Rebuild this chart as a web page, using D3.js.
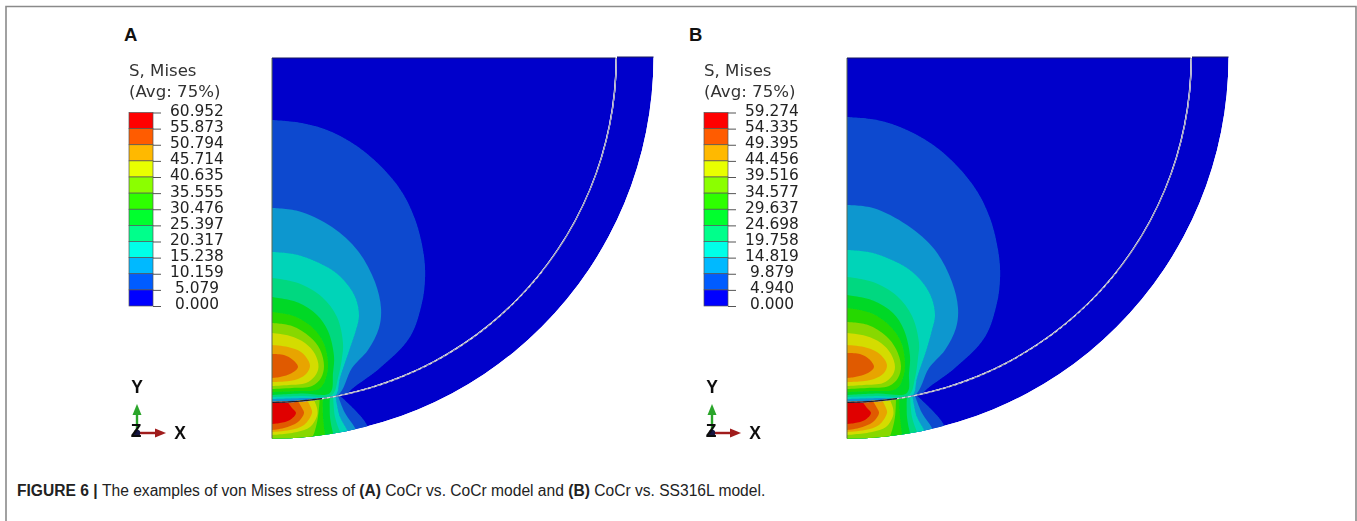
<!DOCTYPE html>
<html>
<head>
<meta charset="utf-8">
<script src="https://cdn.jsdelivr.net/npm/d3@7"></script>
<style>
html, body { margin: 0; padding: 0; background: #fff; }
svg { display: block; }
text { font-family: "DejaVu Sans", sans-serif; }
</style>
</head>
<body>
<svg id="fig" width="1357" height="521"></svg>
<script>
// legend values
var ticksA = ["60.952","55.873","50.794","45.714","40.635","35.555","30.476","25.397","20.317","15.238","10.159","5.079","0.000"];
var ticksB = ["59.274","54.335","49.395","44.456","39.516","34.577","29.637","24.698","19.758","14.819","9.879","4.940","0.000"];

// colour bands, top of the legend first
var legendCols = ["#ff0000","#ff5c00","#ffb900","#e8ff00","#8bff00","#2eff00","#00ff2e","#00ff8b","#00ffe8","#00b9ff","#005cff","#0000ff"];
// same bands as they look on the shaded model, lowest band first
var modelCols = ["#0000cb","#0a4acf","#0a97cf","#00d4b8","#00d880","#00d828","#28d800","#88d800","#d4dc00","#e8a400","#e05a00","#e00000"];

// model outline radii (px of model, origin = centre of the head)
var headR = 343.5, linerIn = 345, linerOut = 381.5, linerShift = -1;

// head contours, band 1 (lowest) up to band 10
var headA = [
  [[0,62],[30,65],[60,74],[93,94],[126,128],[143,161],[152,198],[153,222],[150,245],[138,279],[108,310],[80,331],[65,345],[0,350]],
  [[0,150],[26,153],[60,169],[86,193],[103,224],[109,250],[107,270],[96,292],[80,310],[65,338],[30,342],[0,345]],
  [[0,194],[26,197],[60,212],[75,226],[84,241],[87,258],[84,272],[78,290],[68,320],[63,338],[30,340],[0,341]],
  [[0,220],[26,225],[50,239],[65,259],[71,285],[70,300],[66,320],[60,337],[30,338],[0,339]],
  [[0,239],[26,244.5],[45,257],[56,273],[62,298],[61,315],[58,335],[30,335.5],[0,337]],
  [[0,254],[23,258.5],[42,271],[52,286],[56,305],[54,320],[47,331],[25,333],[0,334]],
  [[0,265],[20,268],[38,279],[48,291.5],[52,308],[49,320],[40,328],[20,330],[0,331]],
  [[0,275],[18,278],[33,285],[43,296],[46.5,309],[43,318],[34,325],[17,327],[0,328]],
  [[0,287],[16,289],[29,294],[36,302],[38,308],[35,315],[26,321],[12,323.5],[0,324]],
  [[0,296],[12,297],[21,302],[26,309],[20,315],[8,319],[0,320]]
];
var headB = [
  [[0,59],[30,62],[60,72],[93,92],[126,127],[143,160],[152,198],[153,222],[150,245],[138,279],[108,310],[80,331],[65,345],[0,350]],
  [[0,147],[26,150],[60,167],[88,192],[105,224],[111,250],[109,270],[98,292],[82,310],[67,338],[30,342],[0,345]],
  [[0,192],[26,195],[60,210],[76,225],[85,241],[88,258],[85,272],[80,290],[70,320],[65,338],[30,340],[0,341]],
  [[0,219],[26,224],[50,238],[65,258],[72,285],[71,300],[68,320],[62,337],[30,338],[0,339]],
  [[0,237],[26,242.5],[46,255],[57,272],[63,298],[62,315],[60,335],[30,335.5],[0,337]],
  [[0,250],[24,255],[43,268],[54,284],[58,305],[56,320],[49,331],[25,333],[0,334]],
  [[0,264],[21,267],[39,278],[49,291],[54,308],[51,320],[42,328],[20,330],[0,331]],
  [[0,275],[19,278],[34,285],[44,296],[48,309],[45,318],[36,325],[17,327],[0,328]],
  [[0,287],[17,289],[30,294],[38,302],[40,308],[37,315],[27,321],[12,323.5],[0,324]],
  [[0,295],[13,296],[22,301],[27,309],[21,315],[8,319],[0,320]]
];

// liner contours, band 1 up to band 11
var linerA = [
  [[65,335],[83,352],[95,367],[100,385]],
  [[65,335],[73,355],[83,370],[88,385]],
  [[63,335],[68,359],[75,372],[80,385]],
  [[61,335],[63,359],[68,374],[72,385]],
  [[58,335],[58,359],[61,375],[64,385]],
  [[51,335],[51,359],[53,377],[54,385]],
  [[48,335],[46,359],[41,378],[36,385]],
  [[41,340],[45,350],[45,358],[38,369],[25,374],[0,377]],
  [[34,340],[39,350],[40,355],[32,367],[18,372],[0,374]],
  [[24,340],[30,350],[32,355],[26,364],[12,370],[0,372]],
  [[13,340],[20,350],[24,355],[18,362],[8,365],[0,366]]
];
var linerB = [
  [[67,335],[85,352],[97,367],[102,385]],
  [[67,335],[75,355],[85,370],[90,385]],
  [[65,335],[70,359],[77,372],[82,385]],
  [[63,335],[65,359],[70,374],[74,385]],
  [[60,335],[60,359],[63,375],[66,385]],
  [[52,335],[53,359],[55,377],[56,385]],
  [[49,335],[48,359],[43,378],[38,385]],
  [[42,340],[46,350],[46,358],[39,369],[25,374],[0,377]],
  [[34,340],[39,350],[40,355],[32,367],[18,372],[0,374]],
  [[24,340],[30,350],[32,355],[26,364],[12,370],[0,372]],
  [[13,340],[20,350],[24,355],[18,362],[8,365],[0,366]]
];

var captionBits = [
  ["FIGURE 6 | ", true],
  ["The examples of von Mises stress of ", false],
  ["(A)", true],
  [" CoCr vs. CoCr model and ", false],
  ["(B)", true],
  [" CoCr vs. SS316L model.", false]
];

var svg = d3.select("#fig");
var defs = svg.append("defs");

defs.append("filter").attr("id", "soft")
    .append("feGaussianBlur").attr("stdDeviation", 0.5);
defs.append("filter").attr("id", "soft2")
    .append("feGaussianBlur").attr("stdDeviation", 0.3);

// frame of the figure box
svg.append("path")
    .attr("d", "M6,521V6.5H1356V521")
    .attr("fill", "none")
    .attr("stroke", "#8a8a8a")
    .attr("stroke-width", 1.6);

function quarter(cx, cy, r) {
    // quarter disc path, corner at the axis
    return "M" + cx + "," + cy + "H" + (cx + r) + "A" + r + "," + r + " 0 0 1 " + cx + "," + (cy + r) + "Z";
}

function draw_panel(id, letter, letterX, offX, ticks, head, liner) {
    var x = d3.scaleLinear().domain([0, 400]).range([offX, offX + 400]);
    var y = d3.scaleLinear().domain([0, 400]).range([58, 458]);
    var line = d3.line().x(d => x(d[0])).y(d => y(d[1])).curve(d3.curveCatmullRom.alpha(0.5));

    var r0 = x(headR) - x(0);
    var rIn = x(linerIn) - x(0), rOut = x(linerOut) - x(0);
    var cy0 = y(0), cyL = y(linerShift);
    var ringPath = "M" + (x(0) + rOut) + "," + cyL
        + "A" + rOut + "," + rOut + " 0 0 1 " + x(0) + "," + (cyL + rOut)
        + "V" + (cyL + rIn)
        + "A" + rIn + "," + rIn + " 0 0 0 " + (x(0) + rIn) + "," + cyL + "Z";

    defs.append("clipPath").attr("id", "head" + id).append("path").attr("d", quarter(x(0), cy0, r0));
    defs.append("clipPath").attr("id", "ring" + id).append("path").attr("d", ringPath);

    var g = svg.append("g").attr("filter", "url(#soft)");

    // head
    var hg = g.append("g").attr("clip-path", "url(#head" + id + ")");
    hg.append("path").attr("d", quarter(x(0), cy0, r0)).attr("fill", modelCols[0]);
    hg.selectAll("path.band")
        .data(head)
        .enter()
        .append("path")
        .attr("class", "band")
        .attr("d", d => line(d) + "Z")
        .attr("fill", (d, i) => modelCols[i + 1]);

    // liner
    var lg = g.append("g").attr("clip-path", "url(#ring" + id + ")");
    lg.append("path").attr("d", ringPath).attr("fill", modelCols[0]);
    lg.selectAll("path.band")
        .data(liner)
        .enter()
        .append("path")
        .attr("class", "band")
        .attr("d", d => line(d) + "L" + x(0) + "," + y(400) + "L" + x(0) + "," + y(325) + "Z")
        .attr("fill", (d, i) => modelCols[i + 1]);

    // gap between head and liner, lighter towards the top
    var gapR = r0 + 0.8;
    var arcTo = function(dx) {
        var ex = x(0) + dx, ey = cy0 + Math.sqrt(gapR * gapR - dx * dx);
        return { x: ex, y: ey };
    };
    var gapPath = "M" + (x(0) + gapR) + "," + cy0 + "A" + gapR + "," + gapR + " 0 0 1 " + x(0) + "," + (cy0 + gapR);
    g.append("path").attr("d", gapPath).attr("fill", "none").attr("stroke", "#9494b4").attr("stroke-width", 1.1);
    var p1 = arcTo(270), p2 = arcTo(50);
    g.append("path")
        .attr("d", "M" + p1.x + "," + p1.y + "A" + gapR + "," + gapR + " 0 0 1 " + x(0) + "," + (cy0 + gapR))
        .attr("fill", "none").attr("stroke", "#dadada").attr("stroke-width", 1.1).attr("stroke-dasharray", "3 3");
    g.append("path")
        .attr("d", "M" + p2.x + "," + p2.y + "A" + gapR + "," + gapR + " 0 0 1 " + x(0) + "," + (cy0 + gapR))
        .attr("fill", "none").attr("stroke", "#1a1a2a").attr("stroke-width", 1.2);

    // edges
    g.append("path").attr("d", "M" + x(0) + "," + cy0 + "V" + (cyL + rOut)).attr("stroke", "#5a6a50").attr("stroke-width", 1).attr("fill", "none");
    g.append("path").attr("d", "M" + x(0) + "," + cy0 + "H" + (x(0) + r0)).attr("stroke", "#101060").attr("stroke-width", 1).attr("fill", "none");
    g.append("path").attr("d", "M" + (x(0) + rIn) + "," + cyL + "H" + (x(0) + rOut)).attr("stroke", "#101060").attr("stroke-width", 1).attr("fill", "none");

    // panel letter
    svg.append("text")
        .attr("x", letterX).attr("y", 41)
        .style("font-family", "'Liberation Sans', sans-serif")
        .style("font-weight", "bold")
        .style("font-size", "18.5px")
        .attr("fill", "#111")
        .text(letter);

    // legend
    var lx = offX - 143;
    var lg2 = svg.append("g").attr("filter", "url(#soft2)");
    lg2.append("text").attr("x", lx).attr("y", 75.5).style("font-size", "16.6px").attr("fill", "#333").text("S, Mises");
    lg2.append("text").attr("x", lx).attr("y", 96.5).style("font-size", "16.6px").attr("fill", "#333").text("(Avg: 75%)");

    var barY = d3.scalePoint().domain(ticks).range([112.5, 306]);
    lg2.selectAll("rect.leg")
        .data(legendCols)
        .enter()
        .append("rect")
        .attr("class", "leg")
        .attr("x", lx)
        .attr("y", (d, i) => barY(ticks[i]))
        .attr("width", 24)
        .attr("height", (d, i) => barY(ticks[i + 1]) - barY(ticks[i]))
        .attr("fill", d => d)
        .attr("stroke", "#555")
        .attr("stroke-width", 0.7);

    var ax = d3.axisRight(barY).tickSize(8).tickPadding(4);
    var axG = lg2.append("g").attr("transform", "translate(" + (lx + 24) + ",0)").call(ax);
    axG.select(".domain").remove();
    axG.selectAll("line").attr("stroke", "#555");
    axG.selectAll("text")
        .attr("x", 44)
        .attr("dy", "0.32em")
        .attr("y", -2)
        .attr("text-anchor", "middle")
        .style("font-size", "15.4px")
        .style("font-family", "'DejaVu Sans', sans-serif")
        .attr("fill", "#222");

    // coordinate triad
    var tx = offX - 135, ty = 433;
    var tg = svg.append("g").attr("filter", "url(#soft2)");
    tg.append("path").attr("d", "M" + tx + "," + ty + "V" + (ty - 20)).attr("stroke", "#2aa52a").attr("stroke-width", 2.4);
    tg.append("path").attr("d", "M" + (tx - 4.5) + "," + (ty - 18) + "L" + tx + "," + (ty - 29) + "L" + (tx + 4.5) + "," + (ty - 18) + "Z").attr("fill", "#2aa52a");
    tg.append("path").attr("d", "M" + tx + "," + ty + "H" + (tx + 20)).attr("stroke", "#a01c1c").attr("stroke-width", 2.4);
    tg.append("path").attr("d", "M" + (tx + 18) + "," + (ty - 4.5) + "L" + (tx + 29) + "," + ty + "L" + (tx + 18) + "," + (ty + 4.5) + "Z").attr("fill", "#a01c1c");
    tg.append("circle").attr("cx", tx).attr("cy", ty).attr("r", 3.2).attr("fill", "#12123f");
    var labs = [["Y", tx, 392.5], ["X", tx + 43, 438.5], ["Z", tx - 1, 437]];
    tg.selectAll("text")
        .data(labs)
        .enter()
        .append("text")
        .attr("x", d => d[1])
        .attr("y", d => d[2])
        .attr("text-anchor", "middle")
        .style("font-family", "'Liberation Sans', sans-serif")
        .style("font-weight", "bold")
        .style("font-size", "17.5px")
        .attr("fill", "#111")
        .text(d => d[0]);
}

draw_panel("A", "A", 124, 272, ticksA, headA, linerA);
draw_panel("B", "B", 689, 847, ticksB, headB, linerB);

// caption
var cap = svg.append("text")
    .attr("x", 17).attr("y", 496)
    .style("font-family", "'Liberation Sans', sans-serif")
    .style("font-size", "15.6px")
    .attr("fill", "#222");
cap.selectAll("tspan")
    .data(captionBits)
    .enter()
    .append("tspan")
    .style("font-weight", d => d[1] ? "bold" : "normal")
    .text(d => d[0]);
</script>
</body>
</html>
